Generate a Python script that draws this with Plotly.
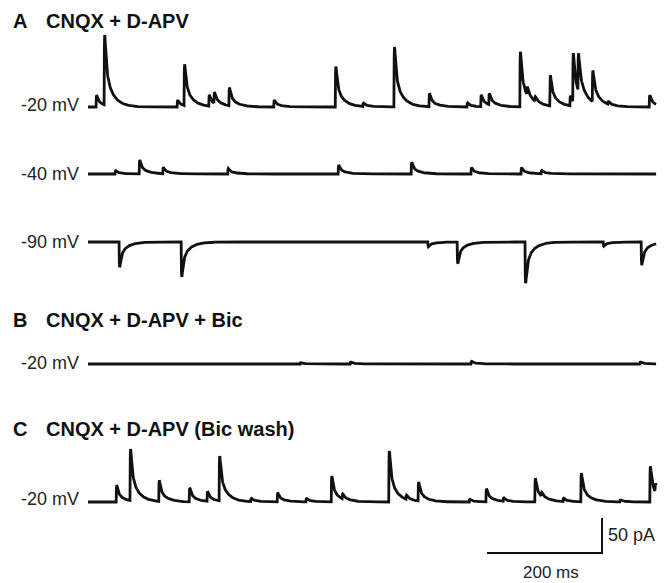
import numpy as np
import plotly.graph_objects as go

# ---------------- data ----------------
DURATION_MS = 988

# A, -20 mV : event onset times (ms) and amplitudes (pA, outward = positive)
a20_times = [14, 28, 155, 167, 210, 219, 245, 323, 430, 478, 532, 593, 659, 683, 697,
             751, 763, 777, 803, 838, 843, 852, 877, 904, 976]
a20_amps = [17, 100, 10, 59, 16, 16, 26, 10, 58, 5, 86, 19, 6, 17, 16,
            79, 12, 7, 44, 14, 70, 54, 45, 4, 17]

# A, -40 mV
a40_times = [47, 89, 130, 243, 435, 562, 666, 753, 788]
a40_amps = [5, 20, 9, 8, 13, 17, 9, 9, 5]

# A, -90 mV (inward events, negative)
a90_times = [54, 162, 591, 642, 760, 896, 962]
a90_amps = [-36, -50, -7, -31, -59, -6, -33]

# B, -20 mV with bicuculline
b20_times = [369, 456, 666, 960]
b20_amps = [2, 3, 4, 3]

# C, -20 mV after bicuculline wash
c20_times = [49, 73, 123, 176, 207, 228, 283, 329, 379, 423, 442, 523, 553, 574,
             663, 692, 722, 777, 788, 826, 857, 925, 977, 986]
c20_amps = [24, 74, 30, 20, 14, 64, 5, 13, 5, 37, 7, 73, 6, 27,
            4, 19, 5, 34, 6, 5, 41, 3, 51, 12]

trace_labels = ["-20 mV", "-40 mV", "-90 mV", "-20 mV", "-20 mV"]
panel_letters = ["A", "B", "C"]
panel_titles = ["CNQX + D-APV", "CNQX + D-APV + Bic", "CNQX + D-APV (Bic wash)"]
scale_ms = 200
scale_pa = 50

# ---------------- layout constants ----------------
PAGE_W, PAGE_H = 669, 583
OFF = 8                      # default page margin around the plot div
W, H = PAGE_W - OFF, PAGE_H - OFF
PX_PER_MS = 0.575
PX_PER_PA = 0.70
X0_PX = 88 - OFF             # trace start, figure pixels
baseline_px = [107, 174, 242, 364, 502]
label_px = [105, 174, 242, 363, 499]
title_px = [21, 320, 429]
FONT = "Liberation Sans, Arial, Helvetica, sans-serif"

# event kernel (fast rise, bi-exponential decay), normalised to unit peak
def kernel(s):
    return (1 - np.exp(-s / 0.5)) * (0.62 * np.exp(-s / 2.5) + 0.38 * np.exp(-s / 13.0))

_kt = np.arange(0, 60, 0.01)
KMAX = kernel(_kt).max()

def build(times, amps, dt=0.5):
    t = np.arange(0, DURATION_MS + dt, dt)
    y = np.zeros_like(t)
    for ti, a in zip(times, amps):
        s = t - ti
        m = s >= 0
        y[m] += a * kernel(s[m]) / KMAX
    return t, y

def px2pa(py):
    # reference-page pixel row -> pA on the (offset) figure axis
    return -(py - OFF) / PX_PER_PA

fig = go.Figure()
series = [(a20_times, a20_amps), (a40_times, a40_amps), (a90_times, a90_amps),
          (b20_times, b20_amps), (c20_times, c20_amps)]
for (times, amps), bpx in zip(series, baseline_px):
    t, y = build(times, amps)
    fig.add_trace(go.Scatter(x=t, y=y + px2pa(bpx), mode="lines",
                             line=dict(color="#111111", width=2.8),
                             hoverinfo="skip", showlegend=False))

# scale bar (drawn in data units)
sb_x_end = (602 - OFF - X0_PX) / PX_PER_MS
sb_y_bot = px2pa(553)
fig.add_trace(go.Scatter(
    x=[sb_x_end - scale_ms, sb_x_end, sb_x_end],
    y=[sb_y_bot, sb_y_bot, sb_y_bot + scale_pa],
    mode="lines", line=dict(color="#111111", width=2),
    hoverinfo="skip", showlegend=False))

def px_x(p):
    return (p - OFF) / W

def px_y(p):
    return 1 - (p - OFF) / H

ann = []
for lab, ly in zip(trace_labels, label_px):
    ann.append(dict(x=px_x(81), y=px_y(ly), xref="paper", yref="paper", text=lab,
                    showarrow=False, xanchor="right", yanchor="middle",
                    font=dict(family=FONT, size=18, color="#222222")))
for let, tit, ty in zip(panel_letters, panel_titles, title_px):
    ann.append(dict(x=px_x(11), y=px_y(ty), xref="paper", yref="paper",
                    text="<b>%s</b>" % let, showarrow=False, xanchor="left",
                    yanchor="middle", font=dict(family=FONT, size=20, color="#111111")))
    ann.append(dict(x=px_x(44), y=px_y(ty), xref="paper", yref="paper",
                    text="<b>%s</b>" % tit, showarrow=False, xanchor="left",
                    yanchor="middle", font=dict(family=FONT, size=20, color="#111111")))
ann.append(dict(x=px_x(606), y=px_y(535), xref="paper", yref="paper",
                text="%d pA" % scale_pa, showarrow=False, xanchor="left", yanchor="middle",
                font=dict(family=FONT, size=18, color="#222222")))
ann.append(dict(x=px_x(551), y=px_y(572), xref="paper", yref="paper",
                text="%d ms" % scale_ms, showarrow=False, xanchor="center", yanchor="middle",
                font=dict(family=FONT, size=17, color="#222222")))

fig.update_layout(
    width=W, height=H, margin=dict(l=0, r=0, t=0, b=0),
    paper_bgcolor="white", plot_bgcolor="white",
    xaxis=dict(range=[-X0_PX / PX_PER_MS, (W - X0_PX) / PX_PER_MS], visible=False,
               fixedrange=True),
    yaxis=dict(range=[-H / PX_PER_PA, 0], visible=False, fixedrange=True),
    annotations=ann,
)

fig.write_html("out.html")
